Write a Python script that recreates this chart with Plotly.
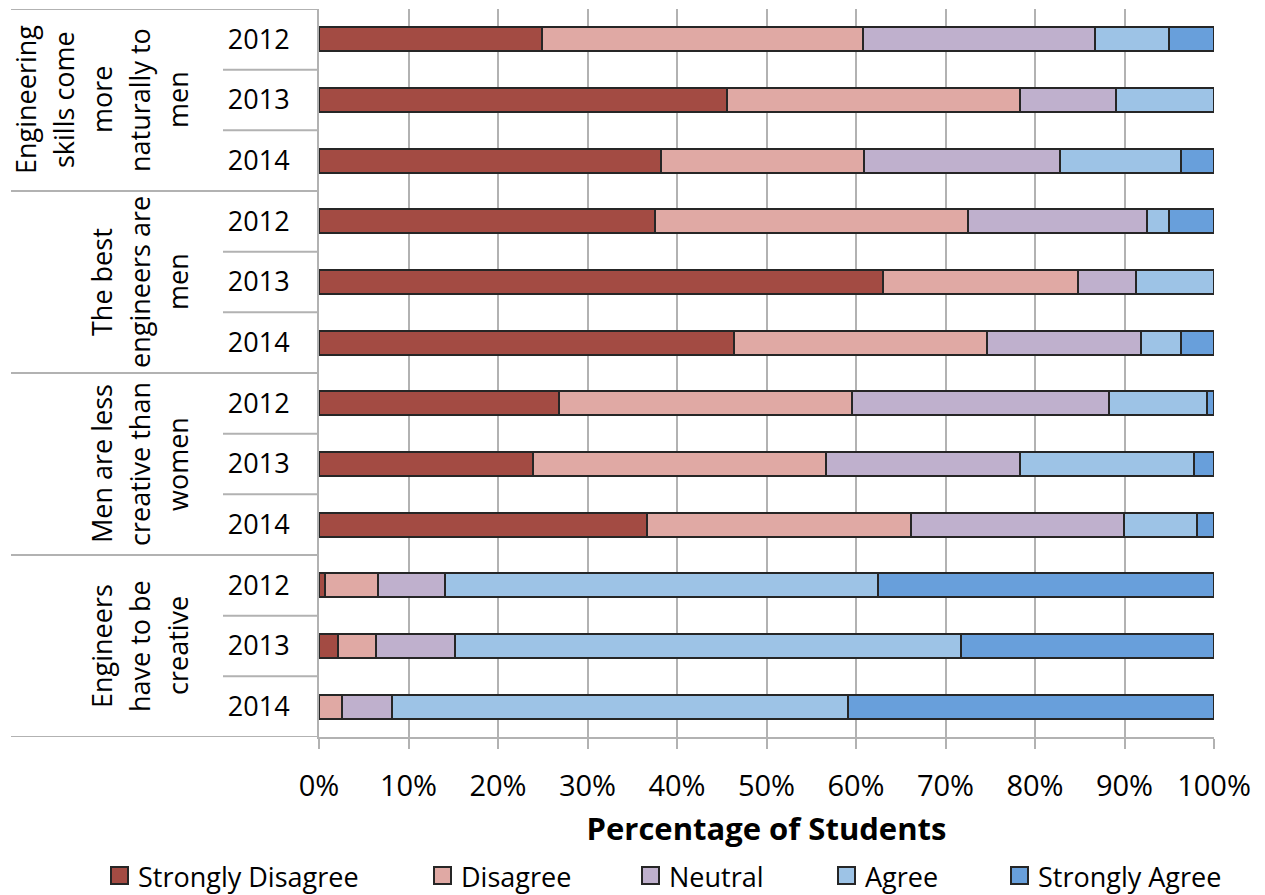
import plotly.graph_objects as go

# Survey statements (group labels, one list of wrapped lines each) and years
statements = [
    ["Engineering", "skills come", "more", "naturally to", "men"],
    ["The best", "engineers are", "men"],
    ["Men are less", "creative than", "women"],
    ["Engineers", "have to be", "creative"],
]
years = ["2012", "2013", "2014"]

series_names = ["Strongly Disagree", "Disagree", "Neutral", "Agree", "Strongly Agree"]
series_colors = ["#A34B43", "#E0A9A4", "#BFB0CD", "#9DC3E6", "#689FDB"]

# Percentage of students per response, rows ordered statement by statement, 2012-2014
strongly_disagree = [24.9, 45.6, 38.2, 37.5, 63.0, 46.4, 26.8, 23.9, 36.7, 0.7, 2.1, 0.0]
disagree = [35.9, 32.7, 22.7, 35.0, 21.8, 28.2, 32.8, 32.7, 29.4, 5.9, 4.3, 2.6]
neutral = [25.9, 10.8, 21.9, 20.0, 6.5, 17.2, 28.7, 21.7, 23.8, 7.5, 8.8, 5.6]
agree = [8.3, 10.9, 13.5, 2.5, 8.7, 4.5, 10.9, 19.5, 8.2, 48.4, 56.5, 50.9]
strongly_agree = [5.0, 0.0, 3.7, 5.0, 0.0, 3.7, 0.8, 2.2, 1.9, 37.5, 28.3, 40.9]

x_ticks = [0, 10, 20, 30, 40, 50, 60, 70, 80, 90, 100]
x_tick_labels = [f"{v}%" for v in x_ticks]

series_values = [strongly_disagree, disagree, neutral, agree, strongly_agree]

# ---- page geometry (pixels) ----
W, H = 1265, 895
ML, MR, MT, MB = 319, 51, 9, 158
PW, PH = W - ML - MR, H - MT - MB
FONT = "Open Sans"
GRID = "#B2B2B2"


def px_x(px):
    return (px - ML) / PW


def px_y(py):
    return (H - MB - py) / PH


n_rows = len(statements) * len(years)
row_pos = list(range(n_rows))
row_labels = [y for _ in statements for y in years]

fig = go.Figure()
for name, color, vals in zip(series_names, series_colors, series_values):
    fig.add_trace(go.Bar(
        name=name, x=vals, y=row_pos, orientation="h",
        marker=dict(color=color, line=dict(color="#262626", width=2)),
        width=0.40, showlegend=False,
    ))

shapes = []
annotations = []

# separators of the category label table
for g in range(len(statements)):
    yb = g * len(years) - 0.5
    shapes.append(dict(type="line", xref="paper", yref="y", x0=px_x(11), x1=0,
                       y0=yb, y1=yb, line=dict(color=GRID, width=2)))
    for k in range(1, len(years)):
        ys = yb + k
        shapes.append(dict(type="line", xref="paper", yref="y", x0=px_x(223), x1=0,
                           y0=ys, y1=ys, line=dict(color=GRID, width=2)))
shapes.append(dict(type="line", xref="paper", yref="y", x0=px_x(11), x1=0,
                   y0=n_rows - 0.5, y1=n_rows - 0.5, line=dict(color=GRID, width=2)))

# rotated statement labels, last line sits next to the year column
line_gap = 38
for g, lines in enumerate(statements):
    yc = g * len(years) + (len(years) - 1) / 2
    n = len(lines)
    for i, txt in enumerate(lines):
        cx = 177 - (n - 1 - i) * line_gap
        annotations.append(dict(text=txt, xref="paper", yref="y", x=px_x(cx), y=yc,
                                textangle=-90, showarrow=False, xanchor="center",
                                yanchor="middle", font=dict(family=FONT, size=27, color="#000")))

# legend drawn below the axis title
legend_text_x = [136, 459, 667, 863, 1036]
for name, color, tx in zip(series_names, series_colors, legend_text_x):
    shapes.append(dict(type="rect", xref="paper", yref="paper",
                       x0=px_x(tx - 25), x1=px_x(tx - 8), y0=px_y(884), y1=px_y(867),
                       fillcolor=color, line=dict(color="#262626", width=2)))
    annotations.append(dict(text=name, xref="paper", yref="paper", x=px_x(tx), y=px_y(876),
                            xanchor="left", yanchor="middle", showarrow=False,
                            font=dict(family=FONT, size=27, color="#000")))

fig.update_layout(
    barmode="stack",
    width=W, height=H,
    margin=dict(l=ML, r=MR, t=MT, b=MB, pad=0),
    paper_bgcolor="white", plot_bgcolor="white",
    font=dict(family=FONT, size=27, color="#000"),
    bargap=0.6,
    shapes=shapes,
    annotations=annotations,
    xaxis=dict(
        range=[0, 100], tickvals=x_ticks, ticktext=x_tick_labels,
        showgrid=True, gridcolor=GRID, gridwidth=2,
        ticks="outside", ticklen=10, tickcolor=GRID, tickwidth=2,
        showline=True, linecolor=GRID, linewidth=2,
        zeroline=False, ticklabelstandoff=12,
        tickfont=dict(family=FONT, size=29, color="#000"),
        title=dict(text="<b>Percentage of Students</b>", standoff=16,
                   font=dict(family=FONT, size=31, color="#000")),
        fixedrange=True,
    ),
    yaxis=dict(
        range=[n_rows - 0.5, -0.5], tickvals=row_pos, ticktext=row_labels,
        showgrid=False, zeroline=False, ticks="",
        showline=True, linecolor=GRID, linewidth=2,
        ticklabelstandoff=22,
        tickfont=dict(family=FONT, size=27, color="#000"),
        fixedrange=True,
    ),
)

fig.write_html("out.html")
